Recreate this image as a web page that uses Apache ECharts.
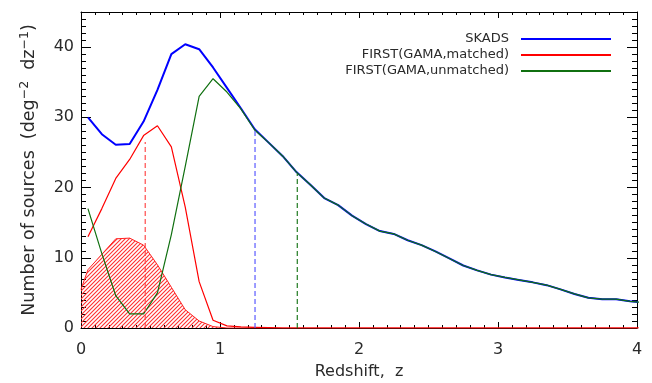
<!DOCTYPE html>
<html>
<head>
<meta charset="utf-8">
<script src="https://cdn.jsdelivr.net/npm/echarts@6/dist/echarts.min.js"></script>
<style>
  html, body { margin: 0; padding: 0; background: #fff; }
  #chart { width: 652px; height: 383px; }
</style>
</head>
<body>
<div id="chart"></div>
<script>
// Redshift bin centres (dz = 0.1)
const redshift = [0.05, 0.15, 0.25, 0.35, 0.45, 0.55, 0.65, 0.75, 0.85, 0.95,
  1.05, 1.15, 1.25, 1.35, 1.45, 1.55, 1.65, 1.75, 1.85, 1.95,
  2.05, 2.15, 2.25, 2.35, 2.45, 2.55, 2.65, 2.75, 2.85, 2.95,
  3.05, 3.15, 3.25, 3.35, 3.45, 3.55, 3.65, 3.75, 3.85, 3.95, 4.05];

// SKADS simulated source density
const skads = [30.0, 27.6, 26.1, 26.2, 29.4, 33.9, 39.0, 40.4, 39.7, 37.1,
  34.2, 31.3, 28.3, 26.4, 24.5, 22.2, 20.4, 18.5, 17.5, 16.0,
  14.8, 13.8, 13.4, 12.5, 11.8, 10.9, 9.9, 8.9, 8.2, 7.6,
  7.2, 6.85, 6.5, 6.1, 5.5, 4.85, 4.3, 4.1, 4.1, 3.8, 3.6];

// FIRST sources matched to GAMA
const matched = [13.0, 17.0, 21.3, 24.0, 27.4, 28.8, 25.8, 17.2, 6.6, 1.1,
  0.3, 0.15, 0.1, 0.05, 0, 0, 0, 0, 0, 0,
  0, 0, 0, 0, 0, 0, 0, 0, 0, 0,
  0, 0, 0, 0, 0, 0, 0, 0, 0, 0, 0];

// FIRST sources without a GAMA match
const unmatched = [17.0, 10.6, 4.6, 2.0, 2.0, 5.0, 13.3, 23.0, 33.0, 35.5,
  33.6, 31.2, 28.2, 26.4, 24.5, 22.2, 20.4, 18.5, 17.5, 16.0,
  14.8, 13.8, 13.4, 12.5, 11.8, 10.9, 9.9, 8.9, 8.2, 7.6,
  7.2, 6.85, 6.5, 6.1, 5.5, 4.85, 4.3, 4.1, 4.1, 3.8, 3.6];

// Matched subset shown as the hatched area
const subsetRedshift = [0, 0.05, 0.15, 0.25, 0.35, 0.45, 0.55, 0.65, 0.75, 0.85, 0.95, 1.05, 4.05];
const subset = [5.5, 8.3, 10.5, 12.7, 12.8, 11.8, 9.0, 5.8, 2.6, 1.0, 0.2, 0, 0];

// Median redshifts (dashed markers) and their heights
const medianRedshift = [0.462, 1.252, 1.556];
const medianHeight = [26.5, 28.2, 22.0];

const xTicks = ['0', '1', '2', '3', '4'];

const pairs = (xs, ys) => xs.map((x, i) => [x, ys[i]]);

// Diagonal hatch tile, handed over as an image URL
function hatchPattern(color) {
  const s = 4;
  const c = document.createElement('canvas');
  c.width = s; c.height = s;
  const g = c.getContext('2d');
  g.clearRect(0, 0, s, s);
  g.strokeStyle = color;
  g.lineWidth = 1.1;
  g.beginPath();
  g.moveTo(-1, s + 1); g.lineTo(s + 1, -1);
  g.moveTo(-1, 1); g.lineTo(1, -1);
  g.moveTo(s - 1, s + 1); g.lineTo(s + 1, s - 1);
  g.stroke();
  return { image: c.toDataURL('image/png'), repeat: 'repeat' };
}

const FONT = 'DejaVu Sans';
const TXT = '#2a2a2a';

function xAxisDef(pos, interval, tickLen, withLabels, withLine) {
  return {
    type: 'value', position: pos, min: 0, max: 4, interval: interval,
    axisLine: { show: withLine, onZero: false, lineStyle: { color: '#000', width: 1 } },
    axisTick: { show: true, inside: true, length: tickLen, lineStyle: { color: '#000', width: 1 } },
    axisLabel: withLabels ? {
      show: true, margin: 14, fontFamily: FONT, fontSize: 16, color: TXT,
      formatter: v => xTicks[Math.round(v)]
    } : { show: false },
    splitLine: { show: false }
  };
}

function yAxisDef(pos, interval, tickLen, withLabels, withLine) {
  return {
    type: 'value', position: pos, min: 0, max: 45, interval: interval,
    axisLine: { show: withLine, onZero: false, lineStyle: { color: '#000', width: 1 } },
    axisTick: { show: true, inside: true, length: tickLen, lineStyle: { color: '#000', width: 1 } },
    axisLabel: withLabels ? {
      show: true, margin: 7, fontFamily: FONT, fontSize: 16, color: TXT, showMaxLabel: false
    } : { show: false },
    splitLine: { show: false }
  };
}

const xAxes = [
  xAxisDef('bottom', 1, 6, true, true),
  xAxisDef('bottom', 0.1, 3, false, false),
  xAxisDef('top', 1, 6, false, true),
  xAxisDef('top', 0.1, 3, false, false)
];
xAxes[0].name = 'Redshift,  z';
xAxes[0].nameLocation = 'middle';
xAxes[0].nameGap = 36;
xAxes[0].nameTextStyle = { fontFamily: FONT, fontSize: 16, color: TXT };

const yAxes = [
  yAxisDef('left', 10, 10, true, true),
  yAxisDef('left', 1, 5, false, false),
  yAxisDef('right', 10, 10, false, true),
  yAxisDef('right', 1, 5, false, false)
];
yAxes[0].name = 'Number of sources  (deg{s|−2}  dz{s|−1})';
yAxes[0].nameLocation = 'middle';
yAxes[0].nameGap = 41;
yAxes[0].nameTextStyle = {
  fontFamily: FONT, fontSize: 17.5, color: TXT,
  rich: { s: { fontFamily: FONT, fontSize: 12.5, color: TXT, verticalAlign: 'top', padding: [0, 0, 9, 0] } }
};

const dashColors = ['#ff4a4a', '#5a5aff', '#1f7a1f'];

const series = [
  {
    name: 'subset', type: 'line', data: pairs(subsetRedshift, subset),
    symbol: 'none', silent: true,
    lineStyle: { color: '#ff2020', width: 1 },
    areaStyle: { color: hatchPattern('#ff3030'), opacity: 1, origin: 'start' }
  },
  {
    name: 'SKADS', type: 'line', data: pairs(redshift, skads),
    symbol: 'none', lineStyle: { color: '#0000ff', width: 2 }, itemStyle: { color: '#0000ff' }
  },
  {
    name: 'FIRST(GAMA,matched)', type: 'line', data: pairs(redshift, matched),
    symbol: 'none', lineStyle: { color: '#ff0000', width: 1.2 }, itemStyle: { color: '#ff0000' }
  },
  {
    name: 'FIRST(GAMA,unmatched)', type: 'line', data: pairs(redshift, unmatched),
    symbol: 'none', lineStyle: { color: '#107010', width: 1.2 }, itemStyle: { color: '#107010' }
  }
];

medianRedshift.forEach((z, i) => {
  series.push({
    name: 'median' + i, type: 'line', symbol: 'none', silent: true,
    data: [[z, 0], [z, medianHeight[i]]],
    lineStyle: { color: dashColors[i], width: 1.2, type: [5, 3] }
  });
});

const chart = echarts.init(document.getElementById('chart'), null, { renderer: 'canvas' });
chart.setOption({
  animation: false,
  backgroundColor: '#fff',
  grid: { left: 81, right: 15, top: 12, bottom: 55, containLabel: false, outerBoundsMode: 'none' },
  legend: {
    data: ['SKADS', 'FIRST(GAMA,matched)', 'FIRST(GAMA,unmatched)'],
    orient: 'vertical', align: 'right', right: 40, top: 31, padding: 0,
    itemWidth: 90, itemHeight: 2, itemGap: 0, selectedMode: false,
    itemStyle: { opacity: 0 },
    textStyle: { fontFamily: FONT, fontSize: 13, color: TXT, lineHeight: 16, padding: [0, 7, 0, 0] }
  },
  xAxis: xAxes,
  yAxis: yAxes,
  series: series
});
</script>
</body>
</html>
